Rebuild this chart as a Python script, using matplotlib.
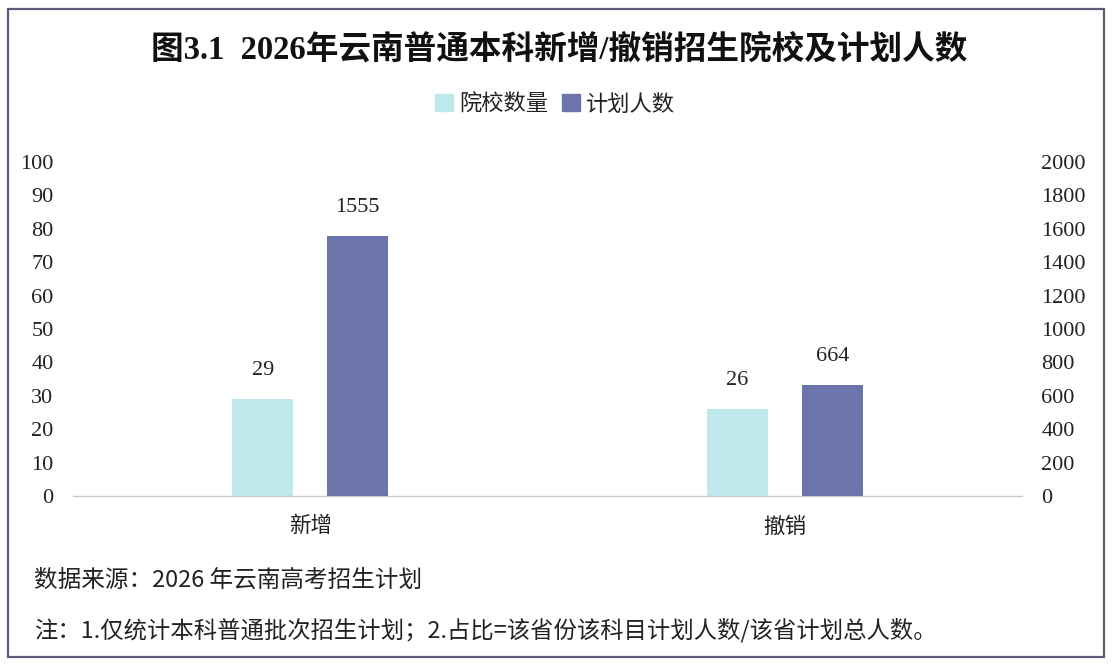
import matplotlib

matplotlib.use("Agg")
import matplotlib.pyplot as plt
import numpy as np
from matplotlib.patches import Patch, Rectangle

categories = ["新增", "撤销"]
school_counts = [29, 26]
plan_numbers = [1555, 664]
left_ticks = list(range(0, 101, 10))
right_ticks = list(range(0, 2001, 200))

title = "图3.1  2026年云南普通本科新增/撤销招生院校及计划人数"
source_note = "数据来源：2026 年云南高考招生计划"
footnote = "注：1.仅统计本科普通批次招生计划；2.占比=该省份该科目计划人数/该省计划总人数。"

CYAN = "#bfe8ec"
PURPLE = "#6b74ab"
TEXT = "#222222"
FAMILY = ["Liberation Serif", "Noto Sans CJK SC", "DejaVu Sans"]
CJK = ["Noto Sans CJK SC", "DejaVu Sans"]

plt.rcParams["font.family"] = FAMILY

figure = plt.figure(figsize=(11.14, 6.68), dpi=100)
figure.patches.append(
    Rectangle(
        (8 / 1114, 1 - 657 / 668),
        1096 / 1114,
        648 / 668,
        transform=figure.transFigure,
        fill=False,
        edgecolor="#5c5c78",
        linewidth=1.6,
    )
)

left = figure.add_axes([73 / 1114, 1 - 496 / 668, 949 / 1114, 334 / 668])
right = left.twinx()

positions = np.arange(len(categories))
width = 0.128
offset = 0.1
left.bar(positions - offset, school_counts, width, color=CYAN, zorder=2)
right.bar(positions + offset, plan_numbers, width, color=PURPLE, zorder=2)

for x, value in zip(positions - offset, school_counts):
    left.annotate(str(value), (x, value), xytext=(0, 14), textcoords="offset points",
                  ha="center", va="bottom", fontsize=16, color=TEXT)
for x, value in zip(positions + offset, plan_numbers):
    right.annotate(str(value), (x, value), xytext=(0, 14), textcoords="offset points",
                   ha="center", va="bottom", fontsize=16, color=TEXT)

left.set_xlim(-0.5, 1.5)
left.set_ylim(0, 100)
right.set_ylim(0, 2000)
left.set_yticks(left_ticks)
right.set_yticks(right_ticks)
left.set_xticks(positions, categories)

for axis in (left, right):
    for side in ("top", "left", "right", "bottom"):
        axis.spines[side].set_visible(False)
    axis.tick_params(length=0, labelsize=16, colors=TEXT)
    axis.set_facecolor("none")
left.spines["bottom"].set_visible(True)
left.spines["bottom"].set_color("#c8c8c8")
left.spines["bottom"].set_linewidth(1.0)
left.tick_params(axis="y", pad=14)
right.tick_params(axis="y", pad=14)
left.tick_params(axis="x", pad=14)
for label in left.get_xticklabels():
    label.set_family(CJK)
    label.set_fontsize(15.5)

figure.text(0.502, 1 - 50 / 668, title, ha="center", va="center", fontsize=23.5,
            fontweight="bold", color="#111111",
            family=["Liberation Serif", "Noto Sans CJK SC"])

figure.legend(
    handles=[Patch(color=CYAN, label="院校数量"), Patch(color=PURPLE, label="计划人数")],
    loc="center",
    bbox_to_anchor=(0.4985, 1 - 104 / 668),
    ncol=2,
    frameon=False,
    handlelength=0.8,
    handleheight=0.8,
    handletextpad=0.3,
    columnspacing=0.6,
    prop={"family": CJK, "size": 16},
    labelcolor=TEXT,
)

figure.text(34 / 1114, 1 - 580 / 668, source_note, ha="left", va="center", fontsize=17,
            style="italic", color=TEXT, family=CJK)
figure.text(34 / 1114, 1 - 630 / 668, footnote, ha="left", va="center", fontsize=16.8,
            style="italic", color=TEXT, family=CJK)

figure.savefig("out.png", dpi=100)
